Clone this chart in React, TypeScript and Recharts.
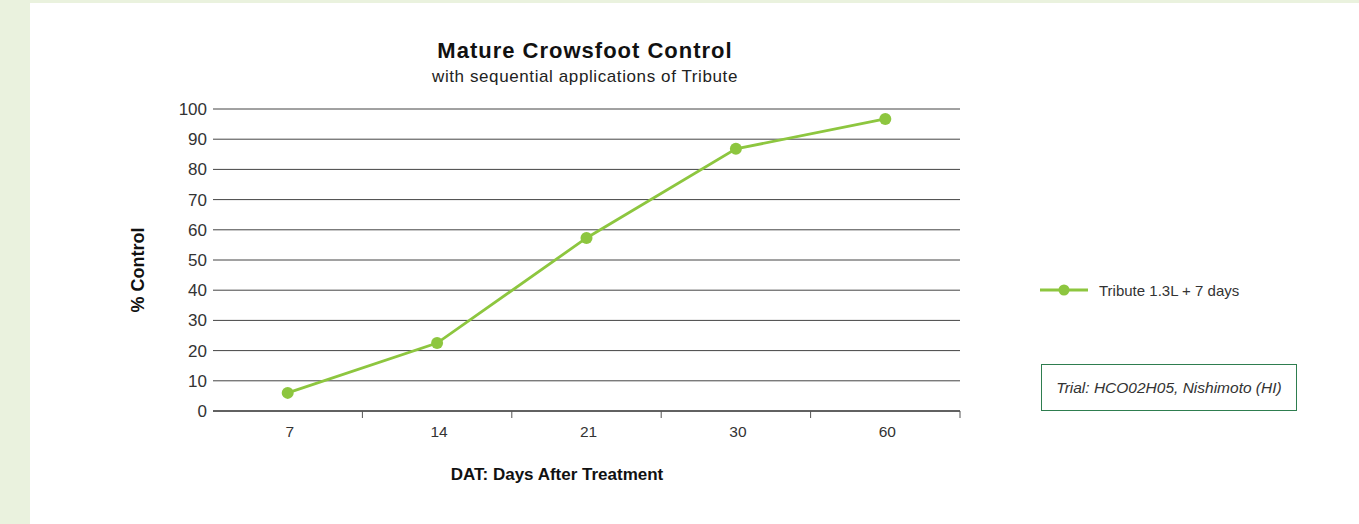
import React from 'react';
import { LineChart, Line, XAxis, YAxis, CartesianGrid } from 'recharts';

const categories = ['7', '14', '21', '30', '60'];
const seriesName = 'Tribute 1.3L + 7 days';
const seriesValues = [6, 22.5, 57.3, 86.8, 96.7];
const yTicks = [0, 10, 20, 30, 40, 50, 60, 70, 80, 90, 100];

const data = categories.map((c, i) => ({ day: c, value: seriesValues[i] }));

const FONT = '"Liberation Sans", Arial, Helvetica, sans-serif';
const GREEN = '#8DC63F';
const TICK_SIZE = 7;
const TICK_MARGIN = 8;

const XTick = (props: any) => {
  const { x, y, payload } = props;
  const off = payload && typeof payload.offset === 'number' ? payload.offset : 0;
  const axisY = y - TICK_SIZE - TICK_MARGIN;
  return (
    <g>
      <line x1={x + off} x2={x + off} y1={axisY} y2={axisY + TICK_SIZE} stroke="#555" strokeWidth={1} />
      <text x={x + 2} y={y} dy="0.71em" textAnchor="middle" fontSize={15.5} fill="#333" fontFamily={FONT}>
        {payload.value}
      </text>
    </g>
  );
};

export default function App() {
  return (
    <div style={{ position: 'absolute', left: 0, top: 0, width: 1359, height: 524, background: '#EAF2DE', fontFamily: FONT, overflow: 'hidden' }}>
      <div style={{ position: 'absolute', left: 30, top: 3, width: 1329, height: 521, background: '#fff' }} />
      <div style={{ position: 'absolute', left: 0, top: 0 }}>
        <LineChart width={1359} height={524} data={data} margin={{ top: 109, right: 399, bottom: 83, left: 153 }}>
          <CartesianGrid vertical={false} stroke="#444" strokeWidth={1} />
          <XAxis
            dataKey="day"
            scale="band"
            height={30}
            axisLine={{ stroke: '#222' }}
            tickLine={false}
            tickSize={TICK_SIZE}
            tickMargin={TICK_MARGIN}
            tick={<XTick />}
            interval={0}
          />
          <YAxis
            width={60}
            domain={[0, 100]}
            ticks={yTicks}
            axisLine={false}
            tickLine={false}
            tickSize={6}
            tickMargin={0}
            tick={{ fontSize: 17, fill: '#333', fontFamily: FONT }}
            interval={0}
          />
          <Line
            type="linear"
            dataKey="value"
            name={seriesName}
            stroke={GREEN}
            strokeWidth={2.8}
            dot={{ r: 6, fill: GREEN, stroke: 'none' }}
            activeDot={false}
            isAnimationActive={false}
          />
        </LineChart>
      </div>
      <div style={{ position: 'absolute', left: 285, width: 600, top: 38, textAlign: 'center', fontSize: 22, letterSpacing: 1, fontWeight: 'bold', color: '#111', lineHeight: '26px' }}>
        Mature Crowsfoot Control
      </div>
      <div style={{ position: 'absolute', left: 285, width: 600, top: 67, textAlign: 'center', fontSize: 17, letterSpacing: 0.6, color: '#222', lineHeight: '20px' }}>
        with sequential applications of Tribute
      </div>
      <div style={{ position: 'absolute', left: 357, width: 400, top: 465, textAlign: 'center', fontSize: 17, fontWeight: 'bold', color: '#111', lineHeight: '20px' }}>
        DAT: Days After Treatment
      </div>
      <div style={{ position: 'absolute', left: 38, width: 200, top: 260, textAlign: 'center', fontSize: 18, fontWeight: 'bold', color: '#111', lineHeight: '20px', transform: 'rotate(-90deg)' }}>
        % Control
      </div>
      <div style={{ position: 'absolute', left: 1040, top: 280, height: 20, display: 'flex', alignItems: 'center' }}>
        <svg width={48} height={20}>
          <line x1={0} x2={48} y1={10} y2={10} stroke={GREEN} strokeWidth={2.8} />
          <circle cx={24} cy={10} r={5.5} fill={GREEN} />
        </svg>
        <span style={{ marginLeft: 11, fontSize: 15, color: '#333' }}>{seriesName}</span>
      </div>
      <div style={{ position: 'absolute', left: 1041, top: 364, width: 254, height: 45, border: '1px solid #2E7D4F', display: 'flex', alignItems: 'center', justifyContent: 'center', fontSize: 15.5, fontStyle: 'italic', color: '#333' }}>
        Trial: HCO02H05, Nishimoto (HI)
      </div>
    </div>
  );
}
